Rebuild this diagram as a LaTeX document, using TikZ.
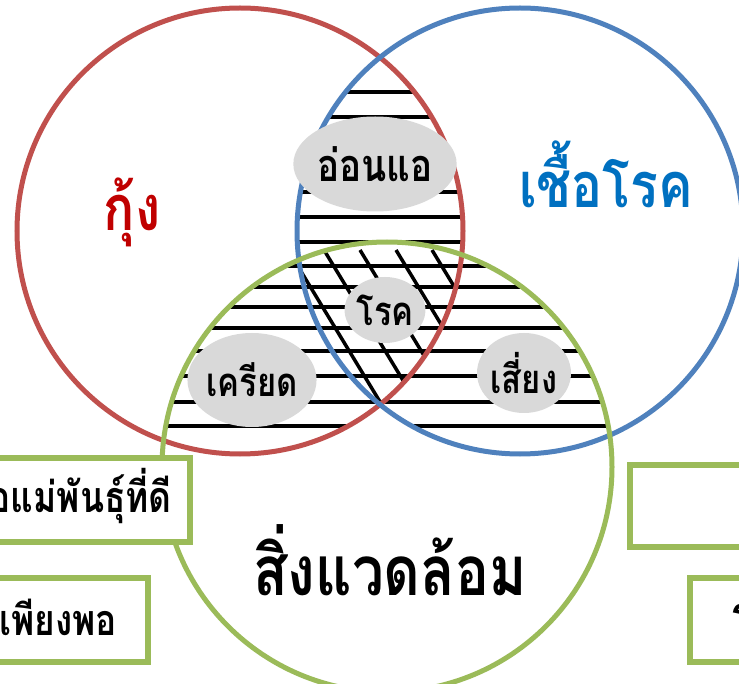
\documentclass[tikz,border=0pt]{standalone}
\usepackage{fontspec}
\newfontfamily\thai[Script=Thai, FakeStretch=0.82]{Loma}
\usetikzlibrary{shapes.geometric}
\definecolor{cred}{HTML}{C0504D}
\definecolor{cblue}{HTML}{4F81BD}
\definecolor{cgreen}{HTML}{9BBB59}
\definecolor{tred}{HTML}{C00000}
\definecolor{tblue}{HTML}{0070C0}
\definecolor{lgray}{HTML}{D9D9D9}
\tikzset{
  ring/.style={line width=5pt},
  hatch/.style={line width=3.5pt, black},
  lbl/.style={ellipse, fill=lgray, inner sep=0pt},
  sidebox/.style={draw=cgreen, line width=5.5pt, fill=white},
  big/.style={font=\thai\bfseries\fontsize{63}{63}\selectfont},
  boxtxt/.style={font=\thai\bfseries\fontsize{43}{43}\selectfont, inner sep=0pt},
}
\newcommand\thsize[1]{\thai\bfseries\fontsize{#1}{#1}\selectfont}
\begin{document}
\begin{tikzpicture}[x=1pt,y=-1pt]
\useasboundingbox (0,0) rectangle (739,684);
\clip (0,0) rectangle (739,684);
\def\RC{(240,231) circle (223)}
\def\BC{(520,231) circle (223)}
\def\GC{(387,467) circle (225)}
% horizontal hatching in pairwise intersections
\foreach \a/\b in {\RC/\BC,\RC/\GC,\BC/\GC}{
  \begin{scope}
    \clip \a; \clip \b;
    \foreach \y in {92,117,142,167,192,217,242,266,287,307,328,351,376,402,426}
      \draw[hatch] (100,\y) -- (700,\y);
  \end{scope}
}
% diagonal hatching in triple intersection
\begin{scope}
  \clip \RC; \clip \BC; \clip \GC;
  \foreach \x in {216,252,288,324,360,396,432}
    \draw[hatch] (\x,250) -- ++(100,165);
\end{scope}
% circles
\draw[ring, cred] \RC;
\draw[ring, cblue] \BC;
\draw[ring, cgreen] \GC;
% side boxes
\node[sidebox, minimum width=240pt, minimum height=84pt] (bl1) at (70,500) {};
\node[sidebox, minimum width=200pt, minimum height=84pt] (bl2) at (48,620) {};
\node[sidebox, minimum width=200pt, minimum height=82pt] (br1) at (730,506) {};
\node[sidebox, minimum width=200pt, minimum height=84pt] (br2) at (790,620) {};
\node[boxtxt, anchor=east] (t1) at (172,496) {อแม่พันธุ์ที่ดี};
\node[boxtxt, anchor=east] (t2) at (117,617) {เพียงพอ};
\node[boxtxt, anchor=west] (t3) at (731,617) {ร};
% big labels
\node[big, text=tred] (kung) at (132,212) {กุ้ง};
\node[big, text=tblue] (chuea) at (606,174) {เชื้อโรค};
\node[font=\thsize{69}] (env) at (390,560) {สิ่งแวดล้อม};
% gray labels
\node[lbl, minimum width=120pt, minimum height=95pt, font=\thsize{45}] (weak) at (375,164) {อ่อนแอ};
\node[lbl, minimum width=68pt, minimum height=66pt, font=\thsize{40}] (dis) at (385,310) {โรค};
\node[lbl, minimum width=94pt, minimum height=94pt, font=\thsize{40}] (stress) at (252,380) {เครียด};
\node[lbl, minimum width=94pt, minimum height=80pt, font=\thsize{40}] (risk) at (524,373) {เสี่ยง};
\end{tikzpicture}
\end{document}
